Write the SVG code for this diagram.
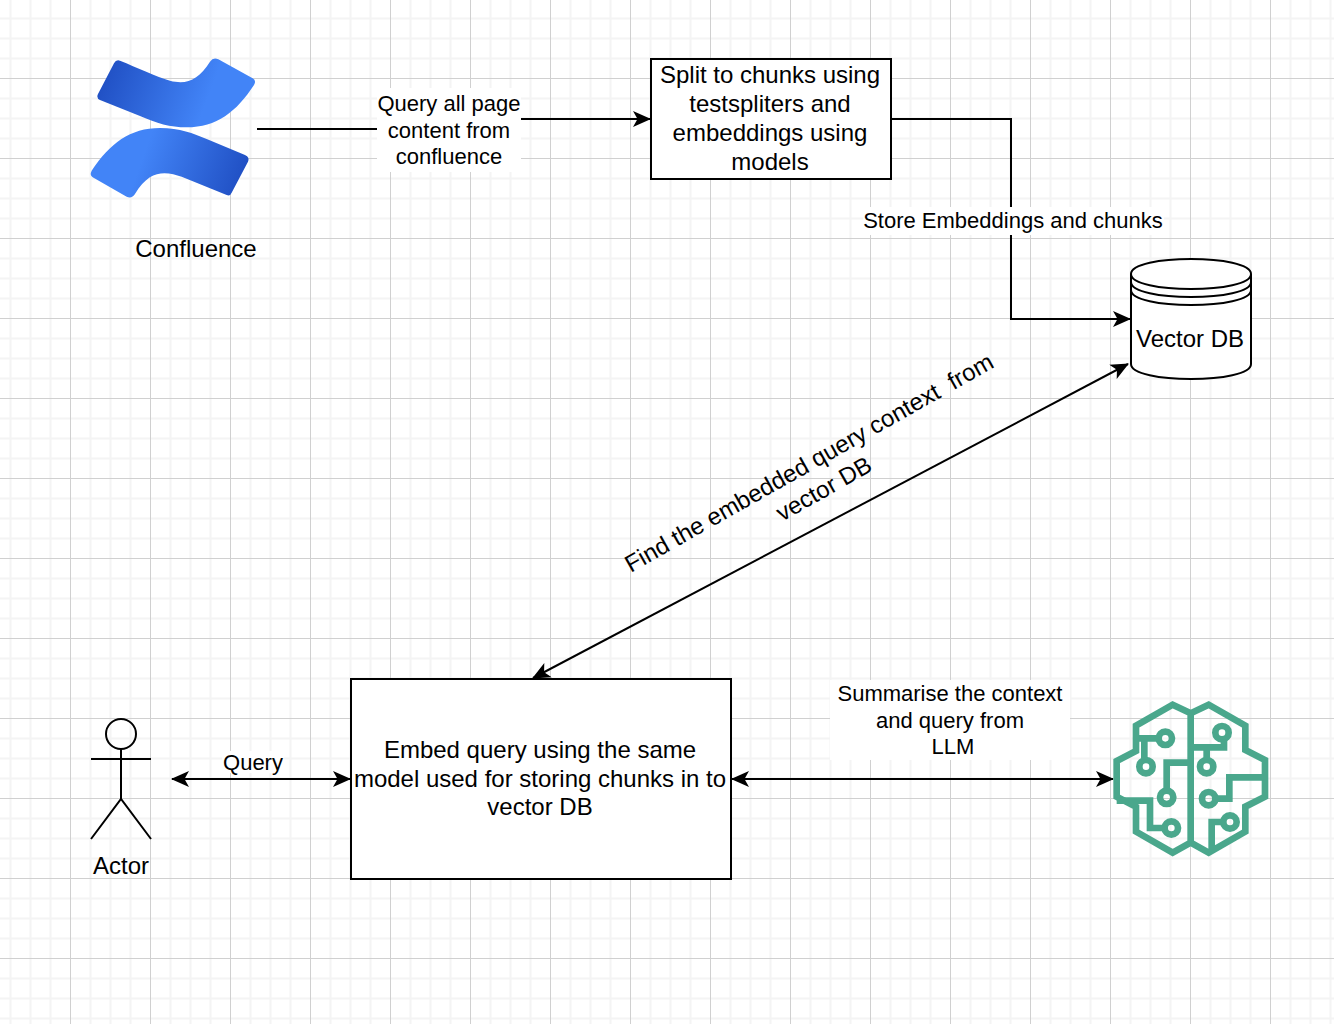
<svg xmlns="http://www.w3.org/2000/svg" width="1334" height="1024" viewBox="0 0 1334 1024">
<defs>
<style>
text{font-family:"Liberation Sans",Arial,sans-serif;fill:#000;text-anchor:middle;white-space:pre}
.t{font-size:24px}.l{font-size:22px}
.b{fill:#fff;stroke:#000;stroke-width:2}
.c{fill:none;stroke:#000;stroke-width:2}
.bg{fill:#fff}
.minor{stroke:#f4f4f4;stroke-width:2}
.major{stroke:#d0d0d0;stroke-width:1}
.br{fill:none;stroke:#4aa78c;stroke-width:20;stroke-linejoin:miter}
</style>
<marker id="a" viewBox="0 0 18 18" refX="17" refY="9" markerWidth="18" markerHeight="18" markerUnits="userSpaceOnUse" orient="auto-start-reverse"><path d="M0 1 L18 9 L0 17 L4.500 9Z" fill="#000"/></marker>
<linearGradient id="g1" gradientUnits="userSpaceOnUse" x1="110" y1="100" x2="400" y2="210"><stop offset="0" stop-color="#2151c5"/><stop offset="1" stop-color="#4284f7"/></linearGradient>
<linearGradient id="g2" gradientUnits="userSpaceOnUse" x1="510" y1="420" x2="230" y2="320"><stop offset="0" stop-color="#2151c5"/><stop offset="1" stop-color="#4284f7"/></linearGradient>
</defs>
<rect width="1334" height="1024" fill="#fff"/>
<g id="grid">
<path class="minor" d="M10.500 0V1024M30.500 0V1024M50.500 0V1024M90.500 0V1024M110.500 0V1024M130.500 0V1024M170.500 0V1024M190.500 0V1024M210.500 0V1024M250.500 0V1024M270.500 0V1024M290.500 0V1024M330.500 0V1024M350.500 0V1024M370.500 0V1024M410.500 0V1024M430.500 0V1024M450.500 0V1024M490.500 0V1024M510.500 0V1024M530.500 0V1024M570.500 0V1024M590.500 0V1024M610.500 0V1024M650.500 0V1024M670.500 0V1024M690.500 0V1024M730.500 0V1024M750.500 0V1024M770.500 0V1024M810.500 0V1024M830.500 0V1024M850.500 0V1024M890.500 0V1024M910.500 0V1024M930.500 0V1024M970.500 0V1024M990.500 0V1024M1010.500 0V1024M1050.500 0V1024M1070.500 0V1024M1090.500 0V1024M1130.500 0V1024M1150.500 0V1024M1170.500 0V1024M1210.500 0V1024M1230.500 0V1024M1250.500 0V1024M1290.500 0V1024M1310.500 0V1024M1330.500 0V1024"/>
<path class="minor" d="M0 18.500H1334M0 38.500H1334M0 58.500H1334M0 98.500H1334M0 118.500H1334M0 138.500H1334M0 178.500H1334M0 198.500H1334M0 218.500H1334M0 258.500H1334M0 278.500H1334M0 298.500H1334M0 338.500H1334M0 358.500H1334M0 378.500H1334M0 418.500H1334M0 438.500H1334M0 458.500H1334M0 498.500H1334M0 518.500H1334M0 538.500H1334M0 578.500H1334M0 598.500H1334M0 618.500H1334M0 658.500H1334M0 678.500H1334M0 698.500H1334M0 738.500H1334M0 758.500H1334M0 778.500H1334M0 818.500H1334M0 838.500H1334M0 858.500H1334M0 898.500H1334M0 918.500H1334M0 938.500H1334M0 978.500H1334M0 998.500H1334M0 1018.500H1334"/>
<path class="major" d="M70.500 0V1024M150.500 0V1024M230.500 0V1024M310.500 0V1024M390.500 0V1024M470.500 0V1024M550.500 0V1024M630.500 0V1024M710.500 0V1024M790.500 0V1024M870.500 0V1024M950.500 0V1024M1030.500 0V1024M1110.500 0V1024M1190.500 0V1024M1270.500 0V1024"/>
<path class="major" d="M0 78.500H1334M0 158.500H1334M0 238.500H1334M0 318.500H1334M0 398.500H1334M0 478.500H1334M0 558.500H1334M0 638.500H1334M0 718.500H1334M0 798.500H1334M0 878.500H1334M0 958.500H1334"/>
</g>
<g id="connectors">
<path class="c" d="M257 129H454V119H650" marker-end="url(#a)"/>
<path class="c" d="M891 119H1011V319H1130" marker-end="url(#a)"/>
<path class="c" d="M533 678L1128 364" marker-start="url(#a)" marker-end="url(#a)"/>
<path class="c" d="M172 779H350" marker-start="url(#a)" marker-end="url(#a)"/>
<path class="c" d="M732 779H1113" marker-start="url(#a)" marker-end="url(#a)"/>
</g>
<g id="label-query-all">
<rect class="bg" x="377" y="88" width="144" height="84"/>
<text class="l" x="449" y="111">Query all page</text>
<text class="l" x="449" y="138">content from</text>
<text class="l" x="449" y="164">confluence</text>
</g>
<g id="label-store">
<rect class="bg" x="863" y="207" width="301" height="28"/>
<text class="l" x="1013" y="228">Store Embeddings and chunks</text>
</g>
<g id="label-find" transform="translate(816 475) rotate(-29.500)">
<text class="t" x="0" y="-6">Find the embedded query context  from</text>
<text class="t" x="0" y="24">vector DB</text>
</g>
<g id="label-query">
<rect class="bg" x="222" y="751" width="62" height="22"/>
<text class="l" x="253" y="770">Query</text>
</g>
<g id="label-summarise">
<rect class="bg" x="830" y="680" width="240" height="80"/>
<text class="l" x="950" y="701">Summarise the context</text>
<text class="l" x="950" y="728">and query from</text>
<text class="l" x="953" y="754">LLM</text>
</g>
<g id="confluence">
<g transform="translate(70 40) scale(.33333)">
<path fill="url(#g1)" d="M150 62C200 82 260 110 300 122C350 135 385 120 420 65Q430 50 445 58L548 115Q560 122 552 135C500 215 440 262 350 262C300 262 260 250 210 228L90 180Q78 174 84 162L132 70Q138 58 150 62Z"/>
<path fill="url(#g2)" d="M470 465L335 410C290 395 240 385 195 462Q185 477 170 470L68 412Q58 405 65 392C120 310 180 264 270 264C330 264 370 280 410 297L525 345Q540 352 534 365L485 458Q480 470 470 465Z"/>
</g>
<text class="t" x="196" y="257">Confluence</text>
</g>
<g id="split">
<rect class="b" x="651" y="59" width="240" height="120"/>
<text class="t" x="770" y="83">Split to chunks using</text>
<text class="t" x="770" y="112">testspliters and</text>
<text class="t" x="770" y="141">embeddings using</text>
<text class="t" x="770" y="170">models</text>
</g>
<g id="vector-db">
<path class="b" d="M1131 274C1131 254 1251 254 1251 274V364C1251 384 1131 384 1131 364Z"/>
<path class="c" d="M1131 274C1131 294 1251 294 1251 274M1131 282C1131 302 1251 302 1251 282M1131 290C1131 310 1251 310 1251 290"/>
<text class="t" x="1190" y="347">Vector DB</text>
</g>
<g id="embed">
<rect class="b" x="351" y="679" width="380" height="200"/>
<text class="t" x="540" y="758">Embed query using the same</text>
<text class="t" x="540" y="787">model used for storing chunks in to</text>
<text class="t" x="540" y="815">vector DB</text>
</g>
<g id="actor">
<circle class="c" cx="121" cy="734" r="15"/>
<path class="c" d="M121 749V799M91 759H151M91 839L121 799L151 839"/>
<text class="t" x="121" y="874">Actor</text>
</g>
<g id="llm" transform="translate(1100 690) scale(.33333)">
<path class="br" d="M272 70L218 44L108 107V183L50 213V320L108 350V425L218 488L272 458L326 488L436 425V350L495 320V210L436 180V107L326 44L272 70V458"/>
<g>
<circle class="br" cx="196" cy="145" r="20"/><circle class="br" cx="138" cy="230" r="20"/><circle class="br" cx="200" cy="322" r="20"/><circle class="br" cx="214" cy="414" r="20"/><circle class="br" cx="366" cy="128" r="20"/><circle class="br" cx="320" cy="230" r="20"/><circle class="br" cx="326" cy="326" r="20"/><circle class="br" cx="390" cy="396" r="20"/>
</g>
<path class="br" d="M116 145H175M133 145V209M272 218H200V301M50 332H150V414H193M272 172H372V148M320 172V209M495 262H388V326H347M335 480V396H369"/>
</g>
</svg>
